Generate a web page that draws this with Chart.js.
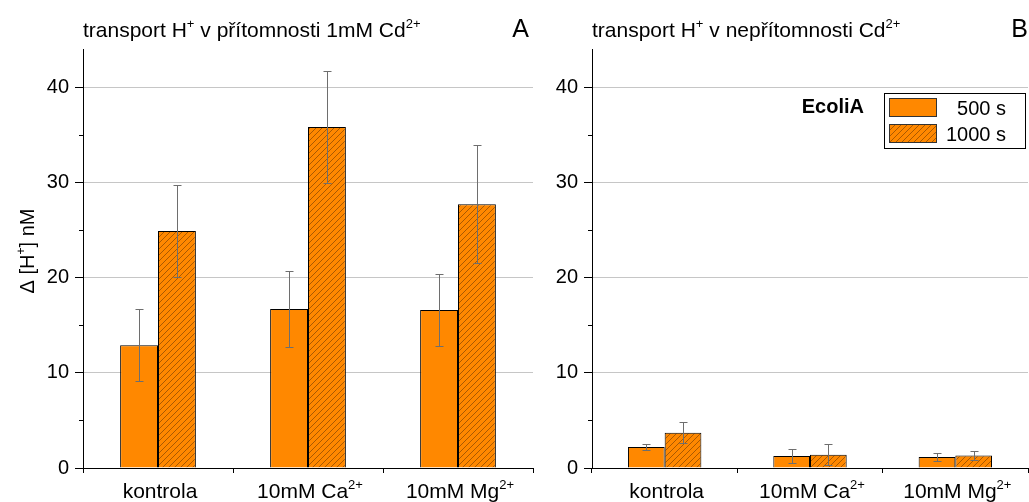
<!DOCTYPE html>
<html>
<head>
<meta charset="utf-8">
<script src="https://cdn.jsdelivr.net/npm/chart.js@4.4.1/dist/chart.umd.min.js"></script>
<style>
  html, body { margin: 0; padding: 0; background: #fff; }
  #wrap { position: relative; width: 1029px; height: 502px; overflow: hidden; background: #fff; }
  .pane { position: absolute; top: 0; height: 502px; }
</style>
</head>
<body>
<div id="wrap">
  <div class="pane" style="left:0; width:540px;"><canvas id="chartA"></canvas></div>
  <div class="pane" style="left:540px; width:489px;"><canvas id="chartB"></canvas></div>
</div>
<script>
// ---- data ----
const categoryNames = ['kontrola', '10mM Ca', '10mM Mg'];
const categorySups  = ['', '2+', '2+'];
const seriesLabels  = ['500 s', '1000 s'];
const legendTitle   = 'EcoliA';

// panel A: with 1mM Cd2+
const withCd500      = [12.9, 16.7, 16.6];
const withCd500Err   = [3.8, 4.0, 3.8];
const withCd1000     = [24.9, 35.8, 27.7];
const withCd1000Err  = [4.8, 5.9, 6.2];

// panel B: without Cd2+
const noCd500        = [2.2, 1.25, 1.15];
const noCd500Err     = [0.35, 0.7, 0.43];
const noCd1000       = [3.7, 1.4, 1.3];
const noCd1000Err    = [1.1, 1.1, 0.5];

const yMax = 44;
const yMajorStep = 10;
const yMinorStep = 5;

// rich-text pieces: [text, isSuperscript]
const titleA = [['transport H', 0], ['+', 1], [' v přítomnosti 1mM Cd', 0], ['2+', 1]];
const titleB = [['transport H', 0], ['+', 1], [' v nepřítomnosti Cd', 0], ['2+', 1]];
const yTitle = [['\u0394 [H', 0], ['+', 1], ['] nM', 0]];

// ---- styles ----
const FONT = '"Liberation Sans", Arial, Helvetica, sans-serif';
const ORANGE = '#ff8800';
const BAR_EDGE = '#000';
const ERR_COLOR = '#6e6e6e';
const GRID_COLOR = '#c6c6c6';

Chart.defaults.font.family = FONT;
Chart.defaults.color = '#000';

function makeHatch() {
  const s = 6;
  const c = document.createElement('canvas');
  c.width = s; c.height = s;
  const g = c.getContext('2d');
  g.fillStyle = ORANGE;
  g.fillRect(0, 0, s, s);
  g.strokeStyle = 'rgba(120,60,0,0.7)';
  g.lineWidth = 0.9;
  g.beginPath();
  g.moveTo(-1, s + 1); g.lineTo(s + 1, -1);
  g.moveTo(-1, 1); g.lineTo(1, -1);
  g.moveTo(s - 1, s + 1); g.lineTo(s + 1, s - 1);
  g.stroke();
  return g.createPattern(c, 'repeat');
}
const HATCH = makeHatch();

function drawRich(ctx, segs, x, y, size, align, bold) {
  const base = (bold ? 'bold ' : '') + size + 'px ' + FONT;
  const supSize = Math.round(size * 0.62);
  const sup = supSize + 'px ' + FONT;
  let total = 0;
  const widths = segs.map(([t, s]) => {
    ctx.font = s ? sup : base;
    const w = ctx.measureText(t).width;
    total += w;
    return w;
  });
  let cx = align === 'center' ? x - total / 2 : align === 'right' ? x - total : x;
  ctx.textAlign = 'left';
  ctx.textBaseline = 'alphabetic';
  ctx.fillStyle = '#000';
  segs.forEach(([t, s], i) => {
    ctx.font = s ? sup : base;
    ctx.fillText(t, cx, s ? y - size * 0.43 : y);
    cx += widths[i];
  });
}

// error bars drawn on top of the bars
const errorBars = {
  id: 'errorBars',
  afterDatasetsDraw(chart) {
    const ctx = chart.ctx;
    const ys = chart.scales.y;
    ctx.save();
    ctx.strokeStyle = ERR_COLOR;
    ctx.lineWidth = 1;
    chart.data.datasets.forEach((ds, di) => {
      const meta = chart.getDatasetMeta(di);
      meta.data.forEach((bar, j) => {
        const v = ds.data[j], e = ds.errors[j];
        const x = Math.round(bar.x) + 0.5;
        const yt = Math.round(ys.getPixelForValue(v + e)) + 0.5;
        const yb = Math.round(ys.getPixelForValue(v - e)) + 0.5;
        const hw = 4;
        ctx.beginPath();
        ctx.moveTo(x, yt); ctx.lineTo(x, yb);
        ctx.moveTo(x - hw, yt); ctx.lineTo(x + hw, yt);
        ctx.moveTo(x - hw, yb); ctx.lineTo(x + hw, yb);
        ctx.stroke();
      });
    });
    ctx.restore();
  }
};

function makePanelText(cfg) {
  return {
    id: 'panelText',
    afterDraw(chart) {
      const ctx = chart.ctx;
      const area = chart.chartArea;
      const xs = chart.scales.x, ys = chart.scales.y;
      ctx.save();
      // minor ticks on the value axis
      ctx.strokeStyle = '#000';
      ctx.lineWidth = 1;
      ctx.beginPath();
      for (let v = yMinorStep; v < yMax; v += yMajorStep) {
        const py = Math.round(ys.getPixelForValue(v)) + 0.5;
        ctx.moveTo(area.left - 4, py); ctx.lineTo(area.left, py);
      }
      ctx.stroke();
      // panel title and letter
      drawRich(ctx, cfg.title, area.left, 37, 21, 'left');
      ctx.font = '25px ' + FONT;
      ctx.textAlign = 'right';
      ctx.textBaseline = 'alphabetic';
      ctx.fillText(cfg.letter, cfg.letterX, 37);
      // category labels with superscripts
      categoryNames.forEach((name, i) => {
        const px = xs.getPixelForValue(i);
        const segs = categorySups[i] ? [[name, 0], [categorySups[i], 1]] : [[name, 0]];
        drawRich(ctx, segs, px + 2, 498, 21, 'center');
      });
      // value axis title
      if (cfg.yTitle) {
        ctx.translate(34, 251);
        ctx.rotate(-Math.PI / 2);
        drawRich(ctx, yTitle, 0, 0, 20, 'center');
      }
      ctx.restore();
    }
  };
}

const legendBox = {
  id: 'legendBox',
  afterDraw(chart) {
    const ctx = chart.ctx;
    const ds = chart.data.datasets;
    ctx.save();
    // frame
    ctx.strokeStyle = '#000';
    ctx.lineWidth = 1;
    ctx.strokeRect(344.5, 93.5, 141, 55);
    // group name
    ctx.font = 'bold 20px ' + FONT;
    ctx.textAlign = 'right';
    ctx.textBaseline = 'alphabetic';
    ctx.fillStyle = '#000';
    ctx.fillText(legendTitle, 324, 113);
    // swatches and labels
    const rows = [98, 124];
    ds.forEach((d, i) => {
      ctx.fillStyle = d.backgroundColor;
      ctx.fillRect(349, rows[i], 48, 19);
      ctx.strokeStyle = '#333';
      ctx.strokeRect(349.5, rows[i] + 0.5, 47, 18);
      ctx.fillStyle = '#000';
      ctx.font = '20px ' + FONT;
      ctx.textAlign = 'right';
      ctx.fillText(d.label, 466, rows[i] + 17);
    });
    ctx.restore();
  }
};

function buildChart(id, d500, e500, d1000, e1000, axisWidth, padRight, panelCfg, withLegend) {
  const plugins = [errorBars, makePanelText(panelCfg)];
  if (withLegend) plugins.push(legendBox);
  return new Chart(document.getElementById(id), {
    type: 'bar',
    data: {
      labels: categoryNames,
      datasets: [
        { label: seriesLabels[0], data: d500, errors: e500, backgroundColor: ORANGE,
          borderColor: BAR_EDGE, borderWidth: 1, borderSkipped: 'bottom' },
        { label: seriesLabels[1], data: d1000, errors: e1000, backgroundColor: HATCH,
          borderColor: BAR_EDGE, borderWidth: 1, borderSkipped: 'bottom' }
      ]
    },
    options: {
      responsive: true,
      maintainAspectRatio: false,
      animation: false,
      devicePixelRatio: 1,
      categoryPercentage: 0.505,
      barPercentage: 1.0,
      layout: { padding: { top: 49, right: padRight, bottom: 0, left: 0 } },
      plugins: { legend: { display: false }, tooltip: { enabled: false } },
      scales: {
        x: {
          type: 'category',
          offset: true,
          grid: { offset: true, drawOnChartArea: false, drawTicks: true, tickLength: 5,
                  color: '#000', tickColor: '#000' },
          border: { display: true, color: '#000', width: 1 },
          ticks: { display: false },
          afterFit(s) { s.height = 34; }
        },
        y: {
          min: 0,
          max: yMax,
          ticks: { stepSize: yMajorStep, padding: 6, color: '#000', font: { size: 20, family: FONT } },
          grid: {
            color: (c) => (c.tick && c.tick.value === 0) ? 'rgba(0,0,0,0)' : GRID_COLOR,
            tickColor: '#000',
            tickLength: 8,
            drawTicks: true
          },
          border: { display: true, color: '#000', width: 1 },
          afterBuildTicks(s) { s.ticks = s.ticks.filter(t => t.value % yMajorStep === 0); },
          afterFit(s) { s.width = axisWidth; }
        }
      }
    },
    plugins
  });
}

buildChart('chartA', withCd500, withCd500Err, withCd1000, withCd1000Err, 83, 7,
  { title: titleA, letter: 'A', letterX: 529, yTitle: true }, false);
buildChart('chartB', noCd500, noCd500Err, noCd1000, noCd1000Err, 52, 1,
  { title: titleB, letter: 'B', letterX: 488, yTitle: false }, true);
</script>
</body>
</html>
